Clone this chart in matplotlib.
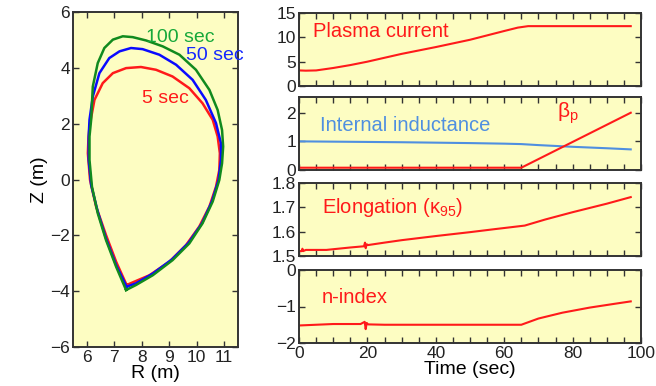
import matplotlib
matplotlib.use("Agg")
import matplotlib.pyplot as plt
from matplotlib.ticker import MultipleLocator

plt.rcParams['font.family'] = ['Liberation Sans', 'DejaVu Sans']
plt.rcParams['mathtext.fontset'] = 'custom'
plt.rcParams['mathtext.rm'] = 'Liberation Sans'
plt.rcParams['mathtext.it'] = 'Liberation Sans'

# ---- plasma boundary shapes (R, Z in m) ----
shape100_R = [7.43, 7.07, 6.70, 6.40, 6.19, 6.10, 6.10, 6.16, 6.22, 6.40, 6.64, 6.95, 7.31,
              7.67, 8.16, 8.76, 9.37, 9.97, 10.46, 10.76, 10.92, 10.96, 10.92, 10.82,
              10.58, 10.21, 9.73, 9.12, 8.40, 7.79, 7.43]
shape100_Z = [-3.96, -3.13, -2.17, -1.21, -0.26, 0.70, 1.54, 2.14, 3.33, 4.17, 4.71, 5.01, 5.13,
              5.10, 4.98, 4.77, 4.47, 3.93, 3.21, 2.49, 1.77, 1.18, 0.58, -0.02,
              -0.79, -1.57, -2.29, -2.89, -3.43, -3.78, -3.96]
shape50_R = [7.45, 7.07, 6.70, 6.40, 6.16, 6.07, 6.07, 6.10, 6.22, 6.46, 6.82, 7.19, 7.61,
             8.03, 8.64, 9.25, 9.85, 10.33, 10.70, 10.88, 10.88, 10.79, 10.55, 10.19,
             9.70, 9.10, 8.40, 7.79, 7.45]
shape50_Z = [-3.84, -3.07, -2.11, -1.15, -0.20, 0.70, 1.54, 2.14, 2.97, 3.81, 4.35, 4.59, 4.71,
             4.67, 4.47, 4.11, 3.57, 2.85, 2.02, 1.30, 0.70, -0.02, -0.79, -1.57,
             -2.27, -2.86, -3.37, -3.72, -3.84]
shape5_R = [7.45, 7.07, 6.70, 6.34, 6.12, 6.04, 6.06, 6.10, 6.28, 6.58, 6.95, 7.43, 7.97,
            8.52, 9.12, 9.73, 10.21, 10.58, 10.76, 10.84, 10.82, 10.70, 10.46, 10.09,
            9.61, 9.00, 8.28, 7.73, 7.45]
shape5_Z = [-3.78, -2.95, -1.99, -0.97, -0.02, 0.94, 1.45, 1.90, 2.85, 3.45, 3.81, 3.99, 4.03,
            3.93, 3.69, 3.27, 2.73, 2.14, 1.54, 0.94, 0.34, -0.26, -0.97, -1.69,
            -2.35, -2.95, -3.43, -3.66, -3.78]

# ---- time traces ----
t_ip = [0, 2, 5, 10, 15, 20, 30, 40, 50, 55, 60, 64, 67, 70, 80, 90, 97]
ip = [3.2, 3.15, 3.2, 3.7, 4.3, 5.0, 6.6, 8.0, 9.5, 10.4, 11.3, 12.0, 12.3, 12.3, 12.3, 12.3, 12.3]

t_li = [0, 10, 20, 30, 40, 50, 60, 65, 70, 80, 90, 97]
li = [1.0, 0.99, 0.98, 0.97, 0.955, 0.94, 0.92, 0.905, 0.87, 0.81, 0.76, 0.72]

t_bp = [0, 20, 40, 60, 65, 97]
bp = [0.08, 0.08, 0.08, 0.08, 0.08, 2.0]

t_k = [0, 0.8, 1.0, 1.2, 2, 8, 15, 19, 19.3, 19.5, 19.8, 20.2, 25, 30, 40, 50, 57, 66, 72, 80, 90, 97]
kappa = [1.52, 1.52, 1.53, 1.52, 1.525, 1.525, 1.535, 1.54, 1.555, 1.532, 1.548, 1.545, 1.555,
         1.565, 1.582, 1.598, 1.61, 1.625, 1.65, 1.68, 1.715, 1.742]

t_n = [0, 5, 10, 18, 19.2, 19.5, 19.8, 20.2, 25, 40, 56, 65, 70, 77, 85, 92, 97]
nidx = [-1.52, -1.5, -1.48, -1.48, -1.42, -1.62, -1.45, -1.49, -1.5, -1.5, -1.5, -1.5, -1.33,
        -1.17, -1.03, -0.93, -0.86]

BG = '#fdfdc2'
EDGE = '#333333'
RED = '#ff1a1a'

fig = plt.figure(figsize=(6.56, 3.86), dpi=100)


def style(ax):
    ax.set_facecolor(BG)
    for s in ax.spines.values():
        s.set_color(EDGE)
        s.set_linewidth(1.4)
    ax.tick_params(which='both', direction='in', top=True, right=True, length=4,
                   width=1.0, color=EDGE, labelsize=12.5, labelcolor='#222222', pad=2)


# left shape panel
axL = fig.add_axes([73 / 656, 1 - 347 / 386, 165 / 656, 335 / 386])
style(axL)
kw = dict(lw=1.8, solid_joinstyle='round')
axL.plot(shape5_R, shape5_Z, color='#ff1a1a', **kw)
axL.plot(shape50_R, shape50_Z, color='#0a0aff', **kw)
axL.plot(shape100_R, shape100_Z, color='#118a1e', **kw)
axL.set_xlim(5.5, 11.5)
axL.set_ylim(-6, 6)
axL.xaxis.set_major_locator(MultipleLocator(1))
axL.yaxis.set_major_locator(MultipleLocator(2))
axL.set_xlabel('R (m)', fontsize=14, labelpad=0)
axL.set_ylabel('Z (m)', fontsize=14, labelpad=2)
axL.text(8.15, 5.1, '100 sec', color='#16a83a', fontsize=14, va='center', ha='left')
axL.text(9.6, 4.45, '50 sec', color='#1428ff', fontsize=14, va='center', ha='left', clip_on=False)
axL.text(8.0, 2.9, '5 sec', color='#ff1a1a', fontsize=14, va='center', ha='left')
fig.text(-0.012, 0.76, 't', fontsize=17, ha='left', va='center')

# right panels
L = 299 / 656
W = 342 / 656
H = 73 / 386
tops = [13, 97, 183, 270]
axes = []
for tp in tops:
    ax = fig.add_axes([L, 1 - (tp + 73) / 386, W, H])
    style(ax)
    ax.set_xlim(0, 100)
    ax.xaxis.set_major_locator(MultipleLocator(20))
    ax.xaxis.set_minor_locator(MultipleLocator(5))
    ax.tick_params(which='minor', length=4)
    axes.append(ax)

a1, a2, a3, a4 = axes
for a in (a1, a2, a3):
    a.tick_params(labelbottom=False)

a1.plot(t_ip, ip, color=RED, lw=1.5)
a1.set_ylim(0, 15)
a1.yaxis.set_major_locator(MultipleLocator(5))
a1.text(4.1, 11.1, 'Plasma current', color=RED, fontsize=14.5, va='center')

a2.plot(t_li, li, color='#4f8fe0', lw=1.5)
a2.plot(t_bp, bp, color=RED, lw=1.5)
a2.set_ylim(0, 2.55)
a2.yaxis.set_major_locator(MultipleLocator(1))
a2.text(6.1, 1.54, 'Internal inductance', color='#4f8fe0', fontsize=14.5, va='center')
a2.text(75.5, 1.97, r'$\mathrm{\beta_p}$', color=RED, fontsize=15, va='center')

a3.plot(t_k, kappa, color=RED, lw=1.5)
a3.set_ylim(1.5, 1.8)
a3.yaxis.set_major_locator(MultipleLocator(0.1))
a3.text(6.7, 1.70, r'Elongation ($\mathrm{\kappa_{95}}$)', color=RED, fontsize=14.5, va='center')

a4.plot(t_n, nidx, color=RED, lw=1.5)
a4.set_ylim(-2, 0)
a4.yaxis.set_major_locator(MultipleLocator(1))
a4.text(6.7, -0.74, 'n-index', color=RED, fontsize=14.5, va='center')
a4.set_xlabel('Time (sec)', fontsize=14, labelpad=0)

fig.savefig('out.png', dpi=100)
